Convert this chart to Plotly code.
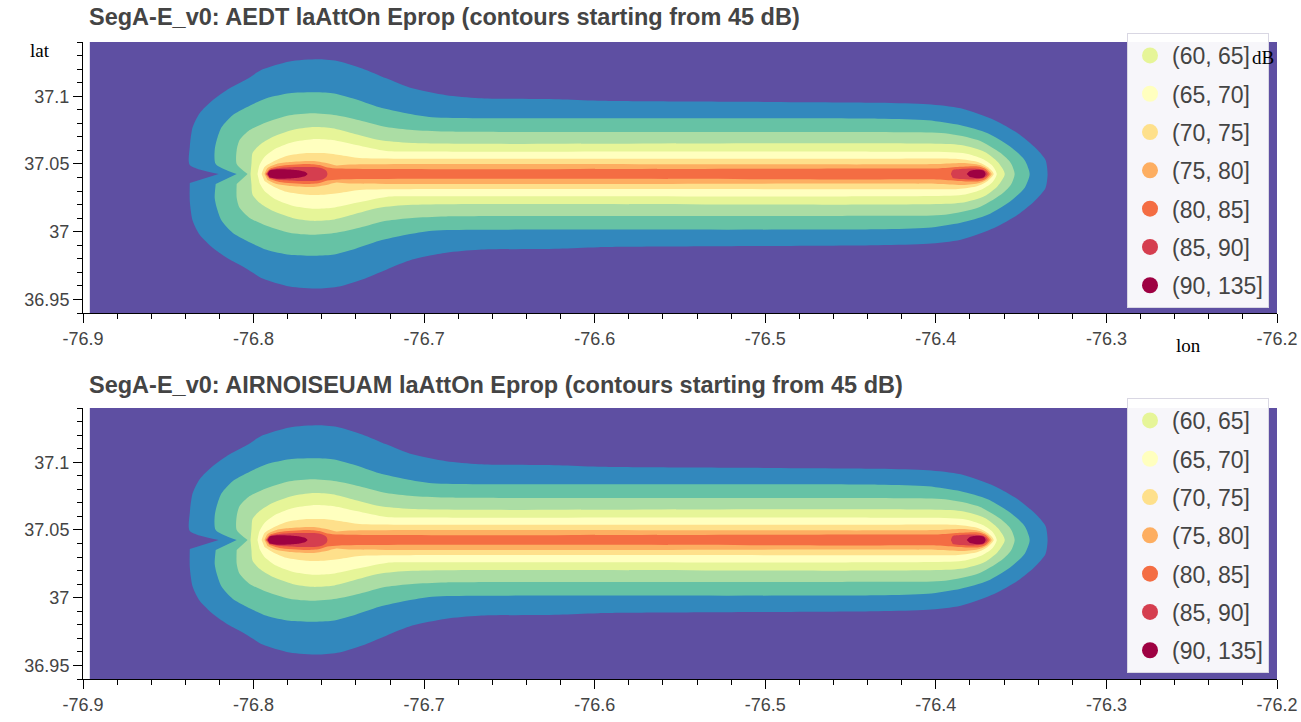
import plotly.graph_objects as go

# ---------------- data ----------------
LAT_CENTER = 37.0426                    # flight-track latitude
GRID_LON = [-76.896, -76.2]             # extent of the computed grid (below-45 dB area)
GRID_LAT = [36.94, 37.14]

X_TICKS = [-76.9, -76.8, -76.7, -76.6, -76.5, -76.4, -76.3, -76.2]
X_TICK_LABELS = ["-76.9", "-76.8", "-76.7", "-76.6", "-76.5", "-76.4", "-76.3", "-76.2"]
Y_TICKS = [36.95, 37.0, 37.05, 37.1]
Y_TICK_LABELS = ["36.95", "37", "37.05", "37.1"]

# contour boundaries: upper half (lon, lat offset from track); lower half is mirrored
L45_LON = [-76.8205, -76.8374, -76.8374, -76.8357, -76.8316, -76.8240, -76.8140, -76.8041, -76.7947,
           -76.7789, -76.7614, -76.7497, -76.7363, -76.7222, -76.7070, -76.6871, -76.6678, -76.6211,
           -76.5977, -76.4339, -76.4047, -76.3854, -76.3655, -76.3520, -76.3421, -76.3357, -76.3345]
L45_DLAT = [0.0, 0.0066, 0.0199, 0.0346, 0.0449, 0.0544, 0.0632, 0.0699, 0.0772,
            0.0831, 0.0846, 0.0831, 0.0779, 0.0706, 0.0632, 0.0581, 0.0559, 0.0551,
            0.0540, 0.0526, 0.0515, 0.0485, 0.0397, 0.0301, 0.0199, 0.0103, 0.0]

L50_LON = [-76.8099, -76.8222, -76.8228, -76.8216, -76.8187, -76.8123, -76.8041, -76.7924, -76.7789,
           -76.7655, -76.7538, -76.7421, -76.7263, -76.7105, -76.6953, -76.6678, -76.4339, -76.4047,
           -76.3854, -76.3696, -76.3561, -76.3480, -76.3450]
L50_DLAT = [0.0, 0.0074, 0.0176, 0.0250, 0.0346, 0.0434, 0.0493, 0.0559, 0.0596,
            0.0603, 0.0596, 0.0559, 0.0493, 0.0449, 0.0419, 0.0412, 0.0408, 0.0397,
            0.0360, 0.0301, 0.0199, 0.0103, 0.0]

L55_LON = [-76.8035, -76.8099, -76.8099, -76.8082, -76.8023, -76.7924, -76.7789, -76.7655, -76.7515,
           -76.7380, -76.7222, -76.7070, -76.6871, -76.4339, -76.3947, -76.3754, -76.3620, -76.3561,
           -76.3538]
L55_DLAT = [0.0, 0.0074, 0.0176, 0.0250, 0.0324, 0.0382, 0.0434, 0.0449, 0.0434,
            0.0397, 0.0346, 0.0324, 0.0313, 0.0309, 0.0301, 0.0250, 0.0154, 0.0081,
            0.0]

L60_LON = [-76.8018, -76.8012, -76.8006, -76.7965, -76.7889, -76.7772, -76.7655, -76.7538, -76.7421,
           -76.7263, -76.7070, -76.4339, -76.3854, -76.3713, -76.3637, -76.3596]
L60_DLAT = [0.0, 0.0081, 0.0154, 0.0213, 0.0272, 0.0324, 0.0346, 0.0338, 0.0301,
            0.0250, 0.0228, 0.0226, 0.0213, 0.0162, 0.0088, 0.0]

L65_LON = [-76.7977, -76.7965, -76.7936, -76.7865, -76.7772, -76.7655, -76.7538, -76.7398, -76.7222,
           -76.7070, -76.4339, -76.3842, -76.3725, -76.3667, -76.3643]
L65_DLAT = [0.0, 0.0066, 0.0125, 0.0191, 0.0235, 0.0257, 0.0250, 0.0213, 0.0169,
            0.0165, 0.0164, 0.0154, 0.0110, 0.0059, 0.0]

L70_LON = [-76.7953, -76.7936, -76.7889, -76.7807, -76.7690, -76.7596, -76.7497, -76.7380, -76.7146,
           -76.4339, -76.3871, -76.3754, -76.3696, -76.3661]
L70_DLAT = [0.0, 0.0051, 0.0088, 0.0132, 0.0154, 0.0154, 0.0140, 0.0118, 0.0113,
            0.0112, 0.0110, 0.0088, 0.0051, 0.0]

L75_LON = [-76.7936, -76.7918, -76.7865, -76.7789, -76.7655, -76.7573, -76.7515, -76.7439, -76.4339,
           -76.3988, -76.3842, -76.3743, -76.3696, -76.3673]
L75_DLAT = [0.0, 0.0044, 0.0074, 0.0088, 0.0096, 0.0081, 0.0063, 0.0070, 0.0071,
            0.0074, 0.0081, 0.0066, 0.0037, 0.0]

L80_LON = [-76.7930, -76.7906, -76.7848, -76.7690, -76.7614, -76.7567, -76.7497, -76.4339, -76.3988,
           -76.3871, -76.3754, -76.3708, -76.3684]
L80_DLAT = [0.0, 0.0037, 0.0059, 0.0074, 0.0066, 0.0048, 0.0040, 0.0040, 0.0041,
            0.0051, 0.0055, 0.0037, 0.0]

L85A_LON = [-76.7924, -76.7906, -76.7848, -76.7731, -76.7643, -76.7596, -76.7573, -76.7567]
L85A_DLAT = [0.0, 0.0029, 0.0044, 0.0051, 0.0051, 0.0040, 0.0022, 0.0]
L85B_LON = [-76.3912, -76.3901, -76.3854, -76.3784, -76.3725, -76.3702, -76.3696]
L85B_DLAT = [0.0, 0.0029, 0.0037, 0.0040, 0.0033, 0.0015, 0.0]

L90A_LON = [-76.7918, -76.7906, -76.7865, -76.7789, -76.7731, -76.7696, -76.7684]
L90A_DLAT = [0.0, 0.0026, 0.0035, 0.0033, 0.0026, 0.0015, 0.0]
L90B_LON = [-76.3819, -76.3801, -76.3754, -76.3719, -76.3708]
L90B_DLAT = [0.0, 0.0022, 0.0031, 0.0024, 0.0]

BANDS = [  # (lower level in dB, boundary lon, boundary dlat)
    (45, L45_LON, L45_DLAT), (50, L50_LON, L50_DLAT), (55, L55_LON, L55_DLAT),
    (60, L60_LON, L60_DLAT), (65, L65_LON, L65_DLAT), (70, L70_LON, L70_DLAT),
    (75, L75_LON, L75_DLAT), (80, L80_LON, L80_DLAT),
    (85, L85A_LON, L85A_DLAT), (85, L85B_LON, L85B_DLAT),
    (90, L90A_LON, L90A_DLAT), (90, L90B_LON, L90B_DLAT),
]

LEGEND_LEVELS = [60, 65, 70, 75, 80, 85, 90]
LEGEND_LABELS = ["(60, 65]", "(65, 70]", "(70, 75]", "(75, 80]", "(80, 85]", "(85, 90]", "(90, 135]"]

TITLES = ["SegA-E_v0: AEDT laAttOn Eprop (contours starting from 45 dB)",
          "SegA-E_v0: AIRNOISEUAM laAttOn Eprop (contours starting from 45 dB)"]

# ---------------- style ----------------
COLORS = {0: "#5e4fa2", 45: "#3288bd", 50: "#66c2a5", 55: "#abdda4", 60: "#e6f598",
          65: "#ffffbf", 70: "#fee08b", 75: "#fdae61", 80: "#f46d43", 85: "#d53e4f", 90: "#9e0142"}
SANS = "Liberation Sans, Arial, sans-serif"
SERIF = "Liberation Serif, Times New Roman, serif"
TXT = "#444444"

fig = go.Figure()

panels = [("x", "y", "legend"), ("x2", "y2", "legend2")]
for pi, (xa, ya, lg) in enumerate(panels):
    # grid background (below 45 dB)
    fig.add_trace(go.Scatter(
        x=[GRID_LON[0], GRID_LON[1], GRID_LON[1], GRID_LON[0]],
        y=[GRID_LAT[0], GRID_LAT[0], GRID_LAT[1], GRID_LAT[1]],
        fill="toself", fillcolor=COLORS[0], mode="lines", line=dict(width=0),
        hoverinfo="skip", showlegend=False, xaxis=xa, yaxis=ya))
    for lev, lons, dl in BANDS:
        xs = list(lons) + list(reversed(lons))[1:-1]
        ys = [LAT_CENTER + d for d in dl] + [LAT_CENTER - d for d in reversed(dl)][1:-1]
        fig.add_trace(go.Scatter(
            x=xs, y=ys, fill="toself", fillcolor=COLORS[lev], mode="lines",
            line=dict(width=0, shape="spline", smoothing=0.7),
            hoverinfo="skip", showlegend=False, xaxis=xa, yaxis=ya))
    for lev, lab in zip(LEGEND_LEVELS, LEGEND_LABELS):
        fig.add_trace(go.Scatter(
            x=[None], y=[None], mode="markers", name=lab,
            marker=dict(symbol="circle", size=16, color=COLORS[lev]),
            legend=lg, legendgroup=f"{lg}-{lev}", showlegend=True, xaxis=xa, yaxis=ya))

W, H = 1301, 722
ML, MR, MT, MB = 83, 24, 42, 43
ph = H - MT - MB


def py2paper(py):
    return (H - MB - py) / ph


def px2paper(px):
    return (px - ML) / (W - ML - MR)


axis_common = dict(
    showgrid=False, zeroline=False, showline=True, linecolor="black", linewidth=1,
    ticks="outside", ticklen=9, tickwidth=1, tickcolor="black",
    tickfont=dict(family=SANS, size=18, color=TXT), automargin=False)

xa = dict(axis_common, range=[-76.9, -76.2], tickmode="array",
          tickvals=X_TICKS, ticktext=X_TICK_LABELS,
          minor=dict(tickmode="linear", tick0=-76.9, dtick=0.02, ticks="outside",
                     ticklen=5, tickcolor="black", tickwidth=1, showgrid=False))
yax = dict(axis_common, range=[GRID_LAT[0], GRID_LAT[1]], tickmode="array",
           tickvals=Y_TICKS, ticktext=Y_TICK_LABELS,
           minor=dict(tickmode="linear", tick0=36.94, dtick=0.01, ticks="outside",
                      ticklen=5, tickcolor="black", tickwidth=1, showgrid=False))

top_dom = [py2paper(313), 1.0]
bot_dom = [0.0, py2paper(408)]

legend_common = dict(
    bgcolor="rgba(255,255,255,0.95)", bordercolor="#d9d7e3", borderwidth=1,
    font=dict(family=SANS, size=23, color=TXT), traceorder="grouped",
    tracegroupgap=5.4, itemwidth=34, xanchor="left", yanchor="top", itemclick=False)

annotations = [
    dict(text=f"<b>{TITLES[0]}</b>", xref="paper", yref="paper", x=px2paper(87), y=py2paper(17),
         xanchor="left", yanchor="middle", showarrow=False,
         font=dict(family=SANS, size=23.5, color=TXT)),
    dict(text=f"<b>{TITLES[1]}</b>", xref="paper", yref="paper", x=px2paper(87), y=py2paper(385),
         xanchor="left", yanchor="middle", showarrow=False,
         font=dict(family=SANS, size=23.5, color=TXT)),
    dict(text="lat", xref="paper", yref="paper", x=px2paper(40), y=py2paper(51),
         xanchor="center", yanchor="middle", showarrow=False,
         font=dict(family=SERIF, size=19, color="black")),
    dict(text="lon", xref="paper", yref="paper", x=px2paper(1188), y=py2paper(345),
         xanchor="center", yanchor="middle", showarrow=False,
         font=dict(family=SERIF, size=19, color="black")),
    dict(text="dB", xref="paper", yref="paper", x=px2paper(1263), y=py2paper(57),
         xanchor="center", yanchor="middle", showarrow=False,
         font=dict(family=SERIF, size=19, color="black")),
]

fig.update_layout(
    width=W, height=H, margin=dict(l=ML, r=MR, t=MT, b=MB),
    paper_bgcolor="white", plot_bgcolor="white",
    xaxis=dict(xa, domain=[0, 1], anchor="y"),
    yaxis=dict(yax, domain=top_dom, anchor="x"),
    xaxis2=dict(xa, domain=[0, 1], anchor="y2"),
    yaxis2=dict(yax, domain=bot_dom, anchor="x2"),
    legend=dict(legend_common, x=px2paper(1127), y=py2paper(33)),
    legend2=dict(legend_common, x=px2paper(1127), y=py2paper(398)),
    annotations=annotations,
    showlegend=True,
)

fig.write_html("out.html")
